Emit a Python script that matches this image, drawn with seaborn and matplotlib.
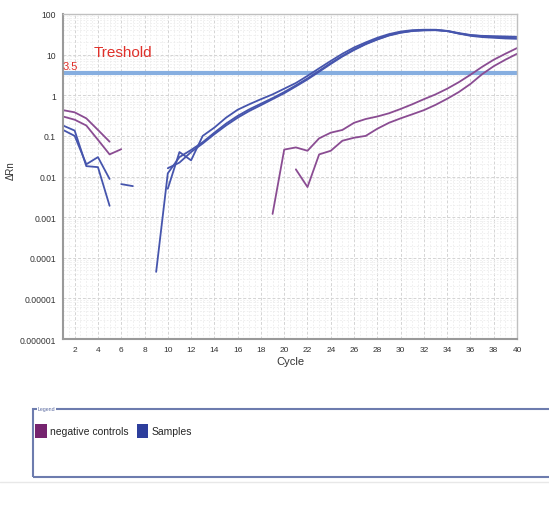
import numpy as np
import pandas as pd
import matplotlib
matplotlib.use("Agg")
import matplotlib.pyplot as plt
import seaborn as sns
from matplotlib.patches import Patch, Rectangle
from matplotlib.ticker import FixedLocator, LogLocator, NullFormatter, MultipleLocator

nan = np.nan
cycles = list(range(1, 41))

# negative controls
neg1 = [0.43, 0.38, 0.27, 0.14, 0.072, nan, nan, nan, nan, nan,
        nan, nan, nan, nan, nan, nan, nan, nan, 0.0012, 0.046,
        0.052, 0.043, 0.087, 0.12, 0.14, 0.21, 0.26, 0.30, 0.36, 0.46,
        0.6, 0.8, 1.05, 1.45, 2.1, 3.2, 5.0, 7.5, 10.5, 14.5]
neg2 = [0.30, 0.25, 0.18, 0.08, 0.035, 0.047, nan, nan, nan, nan,
        nan, nan, nan, nan, nan, nan, nan, nan, nan, nan,
        0.015, 0.0055, 0.035, 0.043, 0.076, 0.09, 0.10, 0.15, 0.21, 0.27,
        0.34, 0.43, 0.58, 0.82, 1.2, 1.9, 3.3, 5.2, 7.5, 10.5]

# samples
smp1 = [0.18, 0.135, 0.018, 0.017, 0.0019, nan, nan, nan, nan, 0.005,
        0.04, 0.025, 0.1, 0.16, 0.28, 0.44, 0.6, 0.8, 1.05, 1.45,
        2.0, 3.0, 4.6, 7.0, 10.5, 15.0, 20.0, 26.0, 32.0, 37.0,
        40.0, 41.0, 41.0, 38.0, 33.0, 30.0, 29.0, 28.5, 28.0, 27.5]
smp2 = [0.14, 0.1, 0.02, 0.03, 0.0087, nan, nan, nan, 4.5e-5, 0.012,
        0.03, 0.045, 0.07, 0.12, 0.2, 0.31, 0.45, 0.62, 0.85, 1.2,
        1.75, 2.6, 4.0, 6.2, 9.3, 13.5, 18.5, 24.0, 30.0, 35.0,
        38.5, 40.0, 40.0, 38.0, 33.0, 29.0, 27.0, 26.0, 25.0, 24.5]
smp3 = [nan, nan, nan, nan, nan, 0.0065, 0.0058, nan, nan, 0.016,
        0.022, 0.04, 0.065, 0.11, 0.18, 0.28, 0.41, 0.57, 0.8, 1.12,
        1.65, 2.45, 3.8, 5.9, 9.0, 13.0, 18.0, 23.5, 29.5, 34.5,
        38.0, 39.5, 40.0, 38.5, 34.0, 30.5, 28.5, 27.0, 26.0, 25.5]

threshold = 3.5
series = {"neg1": ("negative controls", neg1), "neg2": ("negative controls", neg2),
          "s1": ("Samples", smp1), "s2": ("Samples", smp2), "s3": ("Samples", smp3)}
xtick_vals = list(range(2, 41, 2))
ytick_vals = [1e-6, 1e-5, 1e-4, 1e-3, 1e-2, 1e-1, 1, 10, 100]
ytick_labels = ["0.000001", "0.00001", "0.0001", "0.001", "0.01", "0.1", "1", "10", "100"]

# build long-form table with a unit per contiguous segment (breaks at missing values)
rows = []
for name, (grp, vals) in series.items():
    seg = 0
    prev_nan = True
    for c, v in zip(cycles, vals):
        if np.isnan(v):
            prev_nan = True
            continue
        if prev_nan:
            seg += 1
            prev_nan = False
        rows.append({"cycle": c, "drn": v, "group": grp, "unit": f"{name}_{seg}"})
df = pd.DataFrame(rows)

sns.set_style("white")
plt.rcParams["font.family"] = ["Liberation Sans", "DejaVu Sans"]

fig = plt.figure(figsize=(5.49, 5.10), dpi=100)
ax = fig.add_axes([0.1148, 0.3333, 0.827, 0.6373])

line_colors = {"negative controls": "#8a4c92", "Samples": "#4655ad"}
sns.lineplot(data=df, x="cycle", y="drn", hue="group", units="unit", estimator=None,
             palette=line_colors, legend=False, linewidth=1.3, ax=ax, sort=True)

ax.set_yscale("log")
ax.set_ylim(1e-6, 100)
ax.set_xlim(1, 40)

ax.axhline(threshold, color="#86aee0", linewidth=3, zorder=1)
ax.text(1.0, threshold * 1.12, "3.5", color="#e0302a", fontsize=8, ha="left", va="bottom")
ax.text(3.6, threshold * 2.2, "Treshold", color="#e0302a", fontsize=11, ha="left", va="bottom")

ax.yaxis.set_major_locator(FixedLocator(ytick_vals))
ax.set_yticklabels(ytick_labels)
ax.yaxis.set_minor_locator(LogLocator(base=10, subs=np.arange(2, 10)))
ax.yaxis.set_minor_formatter(NullFormatter())
ax.set_xticks(xtick_vals)
ax.xaxis.set_minor_locator(MultipleLocator(0.5))

ax.grid(which="major", color="#d4d4d4", linestyle=(0, (3, 2)), linewidth=0.7)
ax.grid(which="minor", color="#ececec", linestyle=(0, (2, 2)), linewidth=0.6)
ax.set_axisbelow(True)

ax.tick_params(axis="both", which="major", labelsize=6, colors="#333333", length=3, width=0.6, pad=2)
ax.tick_params(axis="y", labelsize=6.2)
ax.tick_params(axis="both", which="minor", length=0)
for sp in ax.spines.values():
    sp.set_color("#c0c0c0")
    sp.set_linewidth(1.0)
ax.spines["left"].set_color("#9a9a9a")
ax.spines["bottom"].set_color("#9a9a9a")
ax.spines["left"].set_linewidth(1.5)
ax.spines["bottom"].set_linewidth(1.5)

ax.set_xlabel("Cycle", fontsize=8, color="#333333", labelpad=2)
ax.set_ylabel("ΔRn", fontsize=7, color="#333333")
ax.yaxis.set_label_coords(-0.105, 0.52)

# legend panel
frame = Rectangle((33 / 549, 1 - 478 / 510), 560 / 549, 68 / 510, transform=fig.transFigure,
                  fill=False, edgecolor="#6d7cae", linewidth=1.5, clip_on=False)
fig.patches.append(frame)
fig.text(38 / 549, 1 - 410 / 510, "Legend", fontsize=3.8, color="#5a6aa0",
         ha="left", va="center", bbox=dict(facecolor="white", edgecolor="none", pad=0.5))
legend_colors = ["#76246f", "#2d3e9c"]
legend_labels = ["negative controls", "Samples"]
handles = [Patch(facecolor=c, edgecolor="none") for c in legend_colors]
fig.legend(handles=handles, labels=legend_labels, loc="upper left",
           bbox_to_anchor=(28 / 549, 1 - 418 / 510), ncol=2, frameon=False,
           fontsize=7.5, handlelength=1.1, handleheight=1.6, handletextpad=0.3,
           columnspacing=0.8, borderpad=0.2)
fig.add_artist(plt.Line2D([0, 1], [1 - 483 / 510, 1 - 483 / 510], transform=fig.transFigure,
                          color="#e8e8e8", linewidth=1))

fig.savefig("out.png", dpi=100, facecolor="white")
